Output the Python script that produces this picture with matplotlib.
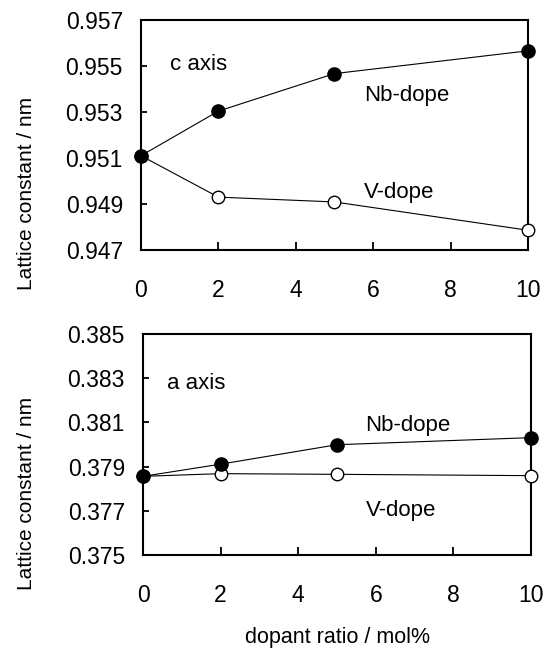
import numpy as np
import matplotlib.pyplot as plt

plt.rcParams['font.family'] = ['Liberation Sans', 'DejaVu Sans']

# dopant ratio (mol%)
ratio = [0, 2, 5, 10]

# c axis lattice constant (nm)
c_nb = [0.9511, 0.95304, 0.95467, 0.95566]
c_v = [0.9511, 0.9493, 0.94909, 0.94786]

# a axis lattice constant (nm)
a_nb = [0.37856, 0.37911, 0.37999, 0.38031]
a_v = [0.37856, 0.37868, 0.37865, 0.37859]

c_ticks = [0.947, 0.949, 0.951, 0.953, 0.955, 0.957]
a_ticks = [0.375, 0.377, 0.379, 0.381, 0.383, 0.385]
x_ticks = [0, 2, 4, 6, 8, 10]

fs = 16

fig = plt.figure(figsize=(5.52, 6.54), dpi=100)
ax1 = fig.add_axes([0.2554, 0.6177, 0.7011, 0.3517])
ax2 = fig.add_axes([0.2591, 0.1514, 0.7029, 0.3379])


def draw_panel(ax, nb, v, yticks, label_x, label_y):
    ax.plot(ratio, v, '-', color='black', lw=0.8, marker='o', ms=9,
            mfc='white', mec='black', mew=1.0, clip_on=False, zorder=3)
    ax.plot(ratio, nb, '-', color='black', lw=0.8, marker='o', ms=9.5,
            mfc='black', mec='black', clip_on=False, zorder=4)
    ax.set_xlim(0, 10)
    ax.set_ylim(yticks[0], yticks[-1])
    ax.set_xticks(x_ticks)
    ax.set_yticks(yticks)
    ax.set_yticklabels(['%.3f' % t for t in yticks])
    ax.tick_params(axis='x', direction='in', length=6, width=1.3,
                   pad=21, labelsize=fs + 0.5)
    ax.tick_params(axis='y', direction='in', length=4.5, width=1.3,
                   pad=13, labelsize=fs + 0.5)
    for s in ax.spines.values():
        s.set_linewidth(1.5)
    ax.set_ylabel('Lattice constant / nm', fontsize=fs - 1)
    ax.yaxis.set_label_coords(label_x, label_y)


draw_panel(ax1, c_nb, c_v, c_ticks, -0.27, 0.246)
ax1.text(1.48, 0.95506, 'c axis', fontsize=fs, ha='center', va='center')
ax1.text(6.86, 0.9537, 'Nb-dope', fontsize=fs, ha='center', va='center')
ax1.text(6.68, 0.94952, 'V-dope', fontsize=fs, ha='center', va='center')

draw_panel(ax2, a_nb, a_v, a_ticks, -0.276, 0.28)
ax2.text(1.36, 0.38274, 'a axis', fontsize=fs, ha='center', va='center')
ax2.text(6.83, 0.38087, 'Nb-dope', fontsize=fs, ha='center', va='center')
ax2.text(6.64, 0.37703, 'V-dope', fontsize=fs, ha='center', va='center')
ax2.set_xlabel('dopant ratio / mol%', fontsize=fs - 0.5, labelpad=14)

fig.savefig('out.png', dpi=100)
